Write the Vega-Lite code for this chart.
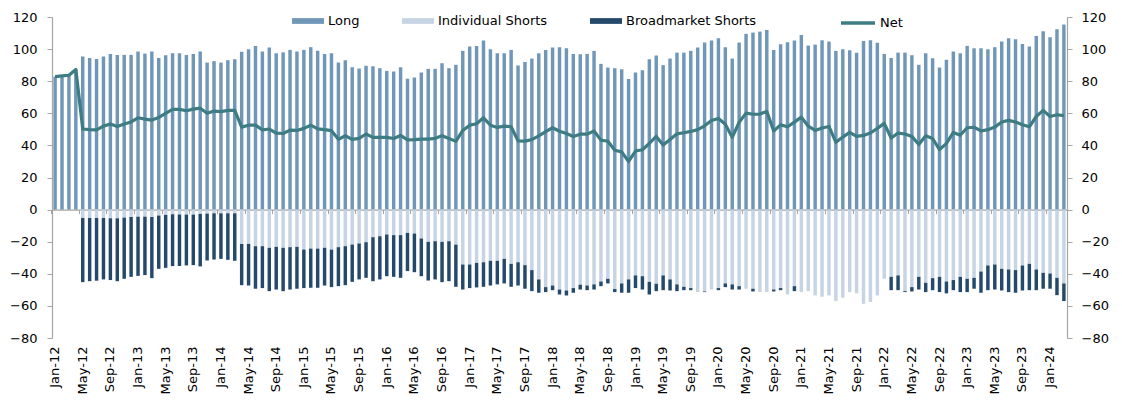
{
  "$schema": "https://vega.github.io/schema/vega-lite/v6.json",
  "width": 1015,
  "height": 321,
  "autosize": {"type": "none"},
  "padding": {"left": 52, "top": 17, "right": 55, "bottom": 62},
  "background": "white",
  "config": {
    "font": "DejaVu Sans",
    "view": {"stroke": null},
    "axis": {"labelFont": "DejaVu Sans", "labelFontSize": 13, "labelColor": "#000000", "grid": false, "domainColor": "#a6a6a6", "tickColor": "#a6a6a6", "domainWidth": 1.2, "tickWidth": 1, "title": null},
    "legend": {"labelFont": "DejaVu Sans", "labelFontSize": 13, "labelColor": "#000000", "padding": 0, "title": null, "orient": "none", "direction": "horizontal"}
  },
  "data": {"values": [
    {"m":"Jan-12","L":82.9,"I":0,"B":0,"N":82.9},
    {"m":"Feb-12","L":83.3,"I":0,"B":0,"N":83.3},
    {"m":"Mar-12","L":83.7,"I":0,"B":0,"N":83.7},
    {"m":"Apr-12","L":87.3,"I":0,"B":0,"N":87.3},
    {"m":"May-12","L":95.4,"I":-5.2,"B":-40.0,"N":50.2},
    {"m":"Jun-12","L":94.5,"I":-5.2,"B":-39.4,"N":49.8},
    {"m":"Jul-12","L":93.9,"I":-5.2,"B":-39.1,"N":49.7},
    {"m":"Aug-12","L":95.4,"I":-5.2,"B":-38.3,"N":52.0},
    {"m":"Sep-12","L":97.0,"I":-5.4,"B":-38.5,"N":53.3},
    {"m":"Oct-12","L":96.4,"I":-5.4,"B":-39.2,"N":51.8},
    {"m":"Nov-12","L":96.4,"I":-5.0,"B":-38.1,"N":53.3},
    {"m":"Dec-12","L":96.4,"I":-4.6,"B":-37.3,"N":54.6},
    {"m":"Jan-13","L":98.5,"I":-4.4,"B":-36.9,"N":57.2},
    {"m":"Feb-13","L":97.2,"I":-4.4,"B":-36.4,"N":56.4},
    {"m":"Mar-13","L":98.5,"I":-4.6,"B":-38.1,"N":55.8},
    {"m":"Apr-13","L":94.5,"I":-3.7,"B":-33.2,"N":57.4},
    {"m":"May-13","L":96.2,"I":-3.3,"B":-33.0,"N":60.0},
    {"m":"Jun-13","L":97.4,"I":-2.9,"B":-32.3,"N":62.4},
    {"m":"Jul-13","L":97.4,"I":-3.1,"B":-32.1,"N":62.4},
    {"m":"Aug-13","L":96.4,"I":-3.1,"B":-31.7,"N":61.6},
    {"m":"Sep-13","L":97.0,"I":-3.1,"B":-31.5,"N":62.6},
    {"m":"Oct-13","L":98.5,"I":-2.7,"B":-32.7,"N":63.2},
    {"m":"Nov-13","L":91.6,"I":-2.5,"B":-29.2,"N":60.0},
    {"m":"Dec-13","L":92.5,"I":-2.3,"B":-28.8,"N":61.4},
    {"m":"Jan-14","L":91.6,"I":-2.3,"B":-28.4,"N":61.0},
    {"m":"Feb-14","L":93.1,"I":-2.3,"B":-29.0,"N":61.8},
    {"m":"Mar-14","L":93.7,"I":-2.3,"B":-29.6,"N":61.8},
    {"m":"Apr-14","L":98.3,"I":-21.4,"B":-25.7,"N":51.4},
    {"m":"May-14","L":99.9,"I":-21.4,"B":-25.9,"N":52.6},
    {"m":"Jun-14","L":102.0,"I":-22.8,"B":-26.5,"N":52.6},
    {"m":"Jul-14","L":98.5,"I":-22.8,"B":-26.1,"N":49.7},
    {"m":"Aug-14","L":101.0,"I":-23.8,"B":-27.0,"N":50.2},
    {"m":"Sep-14","L":97.4,"I":-23.2,"B":-26.6,"N":47.6},
    {"m":"Oct-14","L":98.0,"I":-23.8,"B":-27.0,"N":47.4},
    {"m":"Nov-14","L":99.5,"I":-23.4,"B":-26.4,"N":49.5},
    {"m":"Dec-14","L":98.5,"I":-23.2,"B":-26.1,"N":49.3},
    {"m":"Jan-15","L":99.5,"I":-24.9,"B":-24.0,"N":50.6},
    {"m":"Feb-15","L":101.2,"I":-24.3,"B":-24.4,"N":52.6},
    {"m":"Mar-15","L":98.9,"I":-24.3,"B":-24.4,"N":50.3},
    {"m":"Apr-15","L":97.0,"I":-23.8,"B":-23.5,"N":49.8},
    {"m":"May-15","L":97.4,"I":-24.9,"B":-23.4,"N":49.2},
    {"m":"Jun-15","L":91.6,"I":-23.4,"B":-24.3,"N":43.8},
    {"m":"Jul-15","L":93.1,"I":-22.8,"B":-24.3,"N":46.0},
    {"m":"Aug-15","L":88.7,"I":-21.8,"B":-23.2,"N":43.8},
    {"m":"Sep-15","L":87.9,"I":-21.1,"B":-22.4,"N":44.4},
    {"m":"Oct-15","L":89.6,"I":-20.3,"B":-22.2,"N":47.1},
    {"m":"Nov-15","L":89.3,"I":-17.2,"B":-27.4,"N":45.0},
    {"m":"Dec-15","L":88.1,"I":-16.6,"B":-26.9,"N":45.0},
    {"m":"Jan-16","L":86.4,"I":-15.5,"B":-26.0,"N":45.0},
    {"m":"Feb-16","L":86.0,"I":-15.9,"B":-26.0,"N":44.3},
    {"m":"Mar-16","L":88.7,"I":-15.9,"B":-26.6,"N":46.2},
    {"m":"Apr-16","L":81.5,"I":-14.5,"B":-23.8,"N":43.4},
    {"m":"May-16","L":82.3,"I":-14.9,"B":-24.1,"N":43.6},
    {"m":"Jun-16","L":85.4,"I":-18.0,"B":-23.5,"N":43.9},
    {"m":"Jul-16","L":87.7,"I":-20.1,"B":-24.1,"N":43.9},
    {"m":"Aug-16","L":87.7,"I":-19.7,"B":-23.8,"N":44.4},
    {"m":"Sep-16","L":91.2,"I":-20.1,"B":-25.1,"N":46.0},
    {"m":"Oct-16","L":88.1,"I":-19.7,"B":-24.9,"N":44.3},
    {"m":"Nov-16","L":90.2,"I":-21.8,"B":-26.3,"N":42.5},
    {"m":"Dec-16","L":98.9,"I":-34.2,"B":-15.6,"N":49.3},
    {"m":"Jan-17","L":101.6,"I":-34.2,"B":-14.7,"N":52.6},
    {"m":"Feb-17","L":102.0,"I":-33.2,"B":-15.3,"N":53.5},
    {"m":"Mar-17","L":105.3,"I":-32.8,"B":-15.3,"N":57.2},
    {"m":"Apr-17","L":99.9,"I":-31.9,"B":-15.4,"N":52.6},
    {"m":"May-17","L":97.4,"I":-31.9,"B":-14.7,"N":51.2},
    {"m":"Jun-17","L":97.4,"I":-30.7,"B":-15.3,"N":52.0},
    {"m":"Jul-17","L":99.5,"I":-33.8,"B":-14.3,"N":51.6},
    {"m":"Aug-17","L":89.8,"I":-32.8,"B":-14.5,"N":42.8},
    {"m":"Sep-17","L":92.0,"I":-34.6,"B":-14.7,"N":42.7},
    {"m":"Oct-17","L":94.1,"I":-37.7,"B":-13.1,"N":43.6},
    {"m":"Nov-17","L":97.4,"I":-43.5,"B":-8.3,"N":45.9},
    {"m":"Dec-17","L":99.5,"I":-48.3,"B":-3.1,"N":48.6},
    {"m":"Jan-18","L":101.0,"I":-47.3,"B":-2.9,"N":51.0},
    {"m":"Feb-18","L":101.2,"I":-49.8,"B":-3.1,"N":48.8},
    {"m":"Mar-18","L":100.5,"I":-50.4,"B":-3.1,"N":47.4},
    {"m":"Apr-18","L":97.0,"I":-48.9,"B":-2.9,"N":45.6},
    {"m":"May-18","L":96.8,"I":-46.8,"B":-3.0,"N":47.0},
    {"m":"Jun-18","L":97.0,"I":-47.3,"B":-2.9,"N":47.0},
    {"m":"Jul-18","L":98.9,"I":-46.6,"B":-3.2,"N":49.0},
    {"m":"Aug-18","L":90.8,"I":-44.8,"B":-2.9,"N":43.3},
    {"m":"Sep-18","L":88.5,"I":-43.1,"B":-2.9,"N":42.6},
    {"m":"Oct-18","L":88.1,"I":-49.5,"B":-1.9,"N":37.0},
    {"m":"Nov-18","L":87.5,"I":-46.0,"B":-5.8,"N":36.0},
    {"m":"Dec-18","L":81.3,"I":-43.5,"B":-8.3,"N":30.0},
    {"m":"Jan-19","L":85.4,"I":-41.0,"B":-7.9,"N":36.5},
    {"m":"Feb-19","L":86.9,"I":-41.5,"B":-8.3,"N":37.3},
    {"m":"Mar-19","L":93.7,"I":-45.0,"B":-7.9,"N":41.2},
    {"m":"Apr-19","L":96.0,"I":-46.2,"B":-4.6,"N":45.6},
    {"m":"May-19","L":90.0,"I":-41.0,"B":-9.2,"N":40.2},
    {"m":"Jun-19","L":94.1,"I":-43.5,"B":-6.9,"N":43.7},
    {"m":"Jul-19","L":97.8,"I":-46.6,"B":-4.2,"N":47.2},
    {"m":"Aug-19","L":97.8,"I":-48.1,"B":-2.1,"N":47.9},
    {"m":"Sep-19","L":98.9,"I":-48.9,"B":-1.3,"N":48.7},
    {"m":"Oct-19","L":101.0,"I":-51.4,"B":0,"N":49.8},
    {"m":"Nov-19","L":104.1,"I":-51.0,"B":-0.4,"N":52.2},
    {"m":"Dec-19","L":105.3,"I":-49.8,"B":0,"N":55.5},
    {"m":"Jan-20","L":106.8,"I":-48.9,"B":-1.3,"N":56.8},
    {"m":"Feb-20","L":101.2,"I":-46.0,"B":-2.3,"N":53.2},
    {"m":"Mar-20","L":94.1,"I":-46.6,"B":-3.2,"N":45.0},
    {"m":"Apr-20","L":104.1,"I":-47.7,"B":-2.1,"N":54.4},
    {"m":"May-20","L":109.5,"I":-49.3,"B":0,"N":60.1},
    {"m":"Jun-20","L":110.3,"I":-49.3,"B":-1.7,"N":59.4},
    {"m":"Jul-20","L":110.9,"I":-51.4,"B":0,"N":59.5},
    {"m":"Aug-20","L":111.9,"I":-51.4,"B":0,"N":61.2},
    {"m":"Sep-20","L":99.5,"I":-49.8,"B":-1.2,"N":49.0},
    {"m":"Oct-20","L":103.0,"I":-48.9,"B":-1.3,"N":52.8},
    {"m":"Nov-20","L":104.3,"I":-52.9,"B":0,"N":51.6},
    {"m":"Dec-20","L":105.3,"I":-47.7,"B":-3.1,"N":54.5},
    {"m":"Jan-21","L":108.8,"I":-51.4,"B":0,"N":57.6},
    {"m":"Feb-21","L":102.2,"I":-50.8,"B":0,"N":52.0},
    {"m":"Mar-21","L":102.8,"I":-53.5,"B":0,"N":49.3},
    {"m":"Apr-21","L":105.5,"I":-54.3,"B":0,"N":50.8},
    {"m":"May-21","L":104.7,"I":-53.5,"B":0,"N":51.8},
    {"m":"Jun-21","L":98.9,"I":-57.0,"B":0,"N":41.9},
    {"m":"Jul-21","L":99.9,"I":-54.9,"B":0,"N":45.2},
    {"m":"Aug-21","L":99.3,"I":-51.4,"B":0,"N":48.1},
    {"m":"Sep-21","L":97.8,"I":-52.2,"B":0,"N":45.6},
    {"m":"Oct-21","L":105.1,"I":-58.7,"B":0,"N":46.2},
    {"m":"Nov-21","L":105.5,"I":-57.6,"B":0,"N":47.7},
    {"m":"Dec-21","L":103.9,"I":-53.5,"B":0,"N":50.6},
    {"m":"Jan-22","L":97.0,"I":-43.1,"B":0,"N":53.7},
    {"m":"Feb-22","L":94.5,"I":-41.9,"B":-8.3,"N":44.6},
    {"m":"Mar-22","L":97.8,"I":-41.0,"B":-9.2,"N":47.7},
    {"m":"Apr-22","L":97.8,"I":-50.8,"B":-0.6,"N":47.1},
    {"m":"May-22","L":96.2,"I":-48.3,"B":-2.7,"N":45.6},
    {"m":"Jun-22","L":90.2,"I":-41.9,"B":-7.9,"N":40.6},
    {"m":"Jul-22","L":97.4,"I":-45.6,"B":-5.8,"N":46.0},
    {"m":"Aug-22","L":94.3,"I":-42.7,"B":-7.5,"N":44.3},
    {"m":"Sep-22","L":88.5,"I":-41.9,"B":-9.5,"N":37.4},
    {"m":"Oct-22","L":93.3,"I":-44.8,"B":-7.4,"N":41.3},
    {"m":"Nov-22","L":98.5,"I":-43.9,"B":-6.3,"N":48.1},
    {"m":"Dec-22","L":97.4,"I":-41.9,"B":-9.5,"N":46.3},
    {"m":"Jan-23","L":102.0,"I":-43.1,"B":-8.3,"N":51.0},
    {"m":"Feb-23","L":100.5,"I":-42.5,"B":-6.8,"N":51.3},
    {"m":"Mar-23","L":100.5,"I":-38.6,"B":-13.2,"N":49.0},
    {"m":"Apr-23","L":99.9,"I":-34.8,"B":-15.4,"N":49.8},
    {"m":"May-23","L":101.2,"I":-34.2,"B":-15.6,"N":51.4},
    {"m":"Jun-23","L":104.7,"I":-36.9,"B":-13.5,"N":54.6},
    {"m":"Jul-23","L":106.8,"I":-37.3,"B":-14.1,"N":55.6},
    {"m":"Aug-23","L":106.1,"I":-37.7,"B":-14.1,"N":54.6},
    {"m":"Sep-23","L":103.2,"I":-34.8,"B":-15.6,"N":52.9},
    {"m":"Oct-23","L":101.6,"I":-33.8,"B":-16.4,"N":51.6},
    {"m":"Nov-23","L":108.2,"I":-37.3,"B":-12.9,"N":58.0},
    {"m":"Dec-23","L":111.1,"I":-39.4,"B":-9.9,"N":61.8},
    {"m":"Jan-24","L":107.4,"I":-39.8,"B":-9.5,"N":58.0},
    {"m":"Feb-24","L":112.4,"I":-42.5,"B":-10.8,"N":59.1},
    {"m":"Mar-24","L":115.3,"I":-46.0,"B":-11.0,"N":58.5}
  ]},
  "layer": [
    {
      "transform": [{"fold": ["L", "I", "B"], "as": ["series", "value"]}],
      "mark": {"type": "bar"},
      "encoding": {
        "x": {
          "field": "m", "type": "ordinal", "sort": null,
          "scale": {"paddingInner": 0.5, "paddingOuter": 0.2},
          "axis": {
            "orient": "bottom", "domain": false, "ticks": false, "labelAngle": -90, "labelPadding": 8,
            "values": ["Jan-12","May-12","Sep-12","Jan-13","May-13","Sep-13","Jan-14","May-14","Sep-14","Jan-15","May-15","Sep-15","Jan-16","May-16","Sep-16","Jan-17","May-17","Sep-17","Jan-18","May-18","Sep-18","Jan-19","May-19","Sep-19","Jan-20","May-20","Sep-20","Jan-21","May-21","Sep-21","Jan-22","May-22","Sep-22","Jan-23","May-23","Sep-23","Jan-24"]
          }
        },
        "y": {
          "field": "value", "type": "quantitative", "stack": "zero",
          "scale": {"domain": [-80, 120], "nice": false, "zero": false},
          "axis": {"orient": "left", "values": [-80,-60,-40,-20,0,20,40,60,80,100,120], "tickSize": 5, "labelPadding": 10}
        },
        "color": {
          "field": "series", "type": "nominal", "sort": ["L", "I", "B"],
          "scale": {"domain": ["L", "I", "B"], "range": ["#7097b7", "#c6d4e4", "#24496b"]},
          "legend": {
            "labelExpr": "{'L': 'Long', 'I': 'Individual Shorts', 'B': 'Broadmarket Shorts'}[datum.label]",
            "symbolType": "M-1,-0.18H1V0.18H-1Z", "symbolSize": 1024, "symbolStrokeWidth": 0,
            "columns": 3, "columnPadding": 42, "labelOffset": 4,
            "legendX": 240, "legendY": -12
          }
        }
      }
    },
    {
      "mark": {"type": "line", "strokeWidth": 3.2, "strokeJoin": "round"},
      "encoding": {
        "x": {
          "field": "m", "type": "ordinal", "sort": null,
          "axis": {
            "orient": "bottom", "offset": -128.4, "labels": false, "ticks": true, "tickSize": 4, "bandPosition": -0.5, "domain": true,
            "values": ["Jan-12","May-12","Sep-12","Jan-13","May-13","Sep-13","Jan-14","May-14","Sep-14","Jan-15","May-15","Sep-15","Jan-16","May-16","Sep-16","Jan-17","May-17","Sep-17","Jan-18","May-18","Sep-18","Jan-19","May-19","Sep-19","Jan-20","May-20","Sep-20","Jan-21","May-21","Sep-21","Jan-22","May-22","Sep-22","Jan-23","May-23","Sep-23","Jan-24"]
          }
        },
        "y": {
          "field": "N", "type": "quantitative",
          "scale": {"domain": [-80, 120], "nice": false, "zero": false},
          "axis": {"orient": "right", "values": [-80,-60,-40,-20,0,20,40,60,80,100,120], "tickSize": 5, "labelPadding": 9}
        },
        "stroke": {
          "datum": "Net", "type": "nominal",
          "scale": {"domain": ["Net"], "range": ["#3e7c83"]},
          "legend": {"symbolType": "stroke", "symbolSize": 1156, "symbolStrokeWidth": 3.5, "labelOffset": 3, "legendX": 787, "legendY": -13}
        }
      }
    }
  ],
  "resolve": {"axis": {"x": "independent", "y": "independent"}}
}
